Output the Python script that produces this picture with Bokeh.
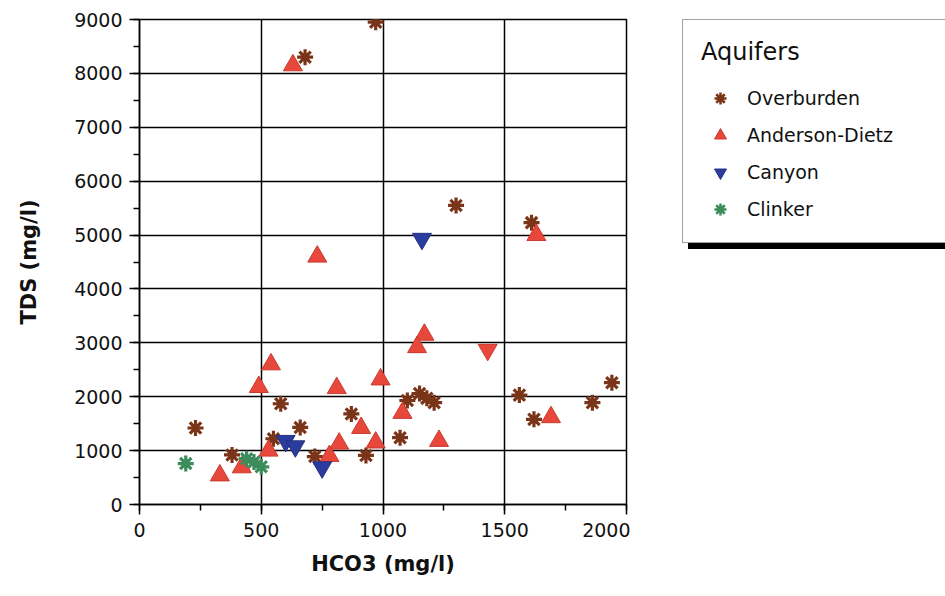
from bokeh.plotting import figure
from bokeh.models import Range1d, SingleIntervalTicker, Legend, LegendItem, ColumnDataSource
from bokeh.layouts import row
from bokeh.embed import file_html
from bokeh.resources import INLINE

# ---- data (HCO3 mg/l, TDS mg/l) ----
overburden_x = [970, 680, 1300, 1610, 230, 580, 550, 660, 380, 720, 870, 930, 1070, 1100, 1150, 1180, 1210, 1560, 1620, 1860, 1940]
overburden_y = [8950, 8300, 5550, 5230, 1420, 1870, 1220, 1430, 920, 890, 1680, 910, 1240, 1930, 2060, 1970, 1890, 2030, 1580, 1890, 2260]

anderson_x = [630, 730, 1630, 1170, 1140, 540, 490, 810, 990, 1080, 1230, 530, 910, 820, 970, 780, 420, 330, 1690]
anderson_y = [8150, 4600, 5000, 3150, 2920, 2600, 2180, 2160, 2320, 1700, 1180, 1000, 1420, 1130, 1150, 900, 690, 540, 1620]

anderson_inv_x = [1430]
anderson_inv_y = [2870]

canyon_x = [1160, 600, 640, 750]
canyon_y = [4930, 1180, 1080, 690]

clinker_x = [190, 440, 470, 500]
clinker_y = [760, 850, 790, 700]

x_label = "HCO3 (mg/l)"
y_label = "TDS (mg/l)"
legend_title = "Aquifers"
series_names = ["Overburden", "Anderson-Dietz", "Canyon", "Clinker"]

BROWN = "#7a3519"
RED = "#e8473b"
BLUE = "#2b3c9e"
GREEN = "#3d8c5c"
FONT = "DejaVu Sans"

STYLES = {
    "ob_star": dict(marker="asterisk", size=16, line_color=BROWN, line_width=3.2),
    "ob_dot": dict(marker="circle", size=7, fill_color=BROWN, line_color=BROWN),
    "ad": dict(marker="triangle", size=19, fill_color=RED, line_color="#c93a2e", line_width=1),
    "cy": dict(marker="inverted_triangle", size=19, fill_color=BLUE, line_color="#22307f", line_width=1),
    "cl_star": dict(marker="asterisk", size=16, line_color=GREEN, line_width=3.2),
    "cl_dot": dict(marker="circle", size=7, fill_color=GREEN, line_color=GREEN),
}

ob_src = ColumnDataSource(dict(x=overburden_x, y=overburden_y))
ad_src = ColumnDataSource(dict(x=anderson_x, y=anderson_y))
adi_src = ColumnDataSource(dict(x=anderson_inv_x, y=anderson_inv_y))
cy_src = ColumnDataSource(dict(x=canyon_x, y=canyon_y))
cl_src = ColumnDataSource(dict(x=clinker_x, y=clinker_y))

p = figure(width=630, height=596, output_backend="svg", toolbar_location=None,
           x_range=Range1d(0, 2000), y_range=Range1d(0, 9000),
           min_border_left=139, min_border_right=4, min_border_top=19, min_border_bottom=92)
p.background_fill_color = "white"
p.border_fill_color = "white"
p.outline_line_color = "black"
p.outline_line_width = 1.5

p.xaxis.ticker = SingleIntervalTicker(interval=500, num_minor_ticks=2)
p.yaxis.ticker = SingleIntervalTicker(interval=1000, num_minor_ticks=2)
for ax in (p.xaxis[0], p.yaxis[0]):
    ax.axis_line_color = "black"
    ax.axis_line_width = 1.5
    ax.major_tick_line_color = "black"
    ax.major_tick_line_width = 1.5
    ax.minor_tick_line_color = "black"
    ax.minor_tick_line_width = 1.5
    ax.major_tick_in = 0
    ax.major_tick_out = 10
    ax.minor_tick_in = 0
    ax.minor_tick_out = 6
    ax.major_label_text_font = FONT
    ax.major_label_text_font_size = "19px"
    ax.major_label_text_color = "#111111"
    ax.axis_label_text_font = FONT
    ax.axis_label_text_font_size = "21px"
    ax.axis_label_text_font_style = "bold"
    ax.axis_label_text_color = "#111111"
p.xaxis.axis_label = x_label
p.yaxis.axis_label = y_label
p.xaxis.major_label_standoff = 8
p.yaxis.major_label_standoff = 7
p.xaxis.axis_label_standoff = 12
p.yaxis.axis_label_standoff = 30

p.xgrid.grid_line_color = "black"
p.ygrid.grid_line_color = "black"
p.xgrid.grid_line_width = 1.5
p.ygrid.grid_line_width = 1.5

# ---- glyphs ----
p.scatter("x", "y", source=ob_src, **STYLES["ob_star"])
p.scatter("x", "y", source=ob_src, **STYLES["ob_dot"])
p.scatter("x", "y", source=ad_src, **STYLES["ad"])
p.scatter("x", "y", source=adi_src, marker="inverted_triangle", size=19,
          fill_color=RED, line_color="#c93a2e", line_width=1)
p.scatter("x", "y", source=cy_src, **STYLES["cy"])
p.scatter("x", "y", source=cl_src, **STYLES["cl_star"])
p.scatter("x", "y", source=cl_src, **STYLES["cl_dot"])

# ---- legend panel (separate figure to the right; its ranges exclude all data,
#      so its renderers only supply legend glyphs) ----
q = figure(width=315, height=596, output_backend="svg", toolbar_location=None,
           x_range=Range1d(-2, -1), y_range=Range1d(-2, -1),
           min_border=0, min_border_left=0, min_border_right=0, min_border_top=0, min_border_bottom=0)
q.axis.visible = False
q.grid.visible = False
q.outline_line_color = None
q.background_fill_color = "white"
q.border_fill_color = "white"

l_ob = q.scatter("x", "y", source=ob_src, marker="asterisk", size=16, line_color=BROWN, line_width=2.5)
l_ad = q.scatter("x", "y", source=ad_src, **STYLES["ad"])
l_cy = q.scatter("x", "y", source=cy_src, **STYLES["cy"])
l_cl = q.scatter("x", "y", source=cl_src, marker="asterisk", size=16, line_color=GREEN, line_width=2.5)

def make_legend(loc, shadow=False):
    names = [" "] * 4 if shadow else series_names
    items = [
        LegendItem(label=names[0], renderers=[l_ob], index=0),
        LegendItem(label=names[1], renderers=[l_ad], index=0),
        LegendItem(label=names[2], renderers=[l_cy], index=0),
        LegendItem(label=names[3], renderers=[l_cl], index=0),
    ]
    return Legend(items=items, location=loc, title=" " if shadow else legend_title,
                  title_text_font=FONT, title_text_font_size="24px", title_text_font_style="normal",
                  label_text_font=FONT, label_text_font_size="19px",
                  glyph_width=38, glyph_height=30, label_standoff=8, spacing=7,
                  padding=18, title_standoff=17, label_width=200, margin=0,
                  border_line_color="black" if shadow else "#444444", border_line_width=1.5,
                  background_fill_color="black" if shadow else "white", background_fill_alpha=1.0,
                  label_text_color="#111111", title_text_color="#111111")

q.add_layout(make_legend((58, 255), shadow=True), "center")
q.add_layout(make_legend((52, 261)), "center")

layout = row(p, q, spacing=0)
open("out.html", "w").write(file_html(layout, INLINE))
